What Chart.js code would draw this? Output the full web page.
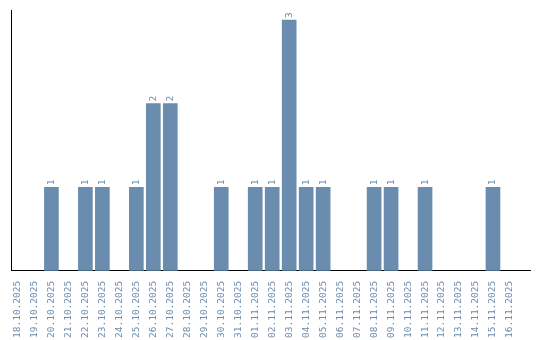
<!DOCTYPE html>
<html>
<head>
<meta charset="utf-8">
<script src="https://cdn.jsdelivr.net/npm/chart.js@4/dist/chart.umd.min.js"></script>
<style>
  html, body { margin: 0; padding: 0; background: #fff; }
  #wrap { width: 540px; height: 340px; }
</style>
</head>
<body>
<div id="wrap"><canvas id="barChart" width="540" height="340"></canvas></div>
<script>
const dates = ['18.10.2025', '19.10.2025', '20.10.2025', '21.10.2025', '22.10.2025', '23.10.2025',
  '24.10.2025', '25.10.2025', '26.10.2025', '27.10.2025', '28.10.2025', '29.10.2025', '30.10.2025',
  '31.10.2025', '01.11.2025', '02.11.2025', '03.11.2025', '04.11.2025', '05.11.2025', '06.11.2025',
  '07.11.2025', '08.11.2025', '09.11.2025', '10.11.2025', '11.11.2025', '12.11.2025', '13.11.2025',
  '14.11.2025', '15.11.2025', '16.11.2025'];
const counts = [0, 0, 1, 0, 1, 1, 0, 1, 2, 2, 0, 0, 1, 0, 1, 1, 3, 1, 1, 0, 0, 1, 1, 0, 1, 0, 0, 0, 1, 0];

const barColor = '#6a8caf';
const fontFamily = '"DejaVu Sans Mono", monospace';

// value labels written upward above each bar
const valueLabels = {
  id: 'valueLabels',
  afterDatasetsDraw(chart) {
    const ctx = chart.ctx;
    const meta = chart.getDatasetMeta(0);
    ctx.save();
    ctx.fillStyle = barColor;
    ctx.font = '9.5px ' + fontFamily;
    ctx.textAlign = 'left';
    ctx.textBaseline = 'middle';
    meta.data.forEach((bar, i) => {
      if (!counts[i]) return;
      ctx.save();
      ctx.translate(bar.x, bar.y - 2);
      ctx.rotate(-Math.PI / 2);
      ctx.fillText(String(counts[i]), 0, 0);
      ctx.restore();
    });
    ctx.restore();
  }
};

new Chart(document.getElementById('barChart'), {
  type: 'bar',
  data: {
    datasets: [{
      // empty days get no bar at all
      data: counts.map((c, i) => ({ x: i, y: c || null })),
      backgroundColor: barColor,
      borderWidth: 0,
      barThickness: 14
    }]
  },
  options: {
    responsive: false,
    animation: false,
    layout: { padding: { left: 3, right: 10, top: 10, bottom: 0 } },
    plugins: { legend: { display: false }, tooltip: { enabled: false } },
    scales: {
      x: {
        type: 'linear',
        min: -0.38,
        max: 30.18,
        offset: false,
        grid: { display: false },
        border: { display: true, color: '#000', width: 1 },
        afterBuildTicks: scale => {
          scale.ticks = dates.map((d, i) => ({ value: i }));
        },
        ticks: {
          color: barColor,
          font: { family: fontFamily, size: 9.5 },
          minRotation: 90,
          maxRotation: 90,
          autoSkip: false,
          padding: 2,
          callback: v => dates[v]
        }
      },
      y: {
        min: 0,
        max: 3.12,
        grid: { display: false },
        border: { display: true, color: '#000', width: 1 },
        ticks: { display: false }
      }
    }
  },
  plugins: [valueLabels]
});
</script>
</body>
</html>
